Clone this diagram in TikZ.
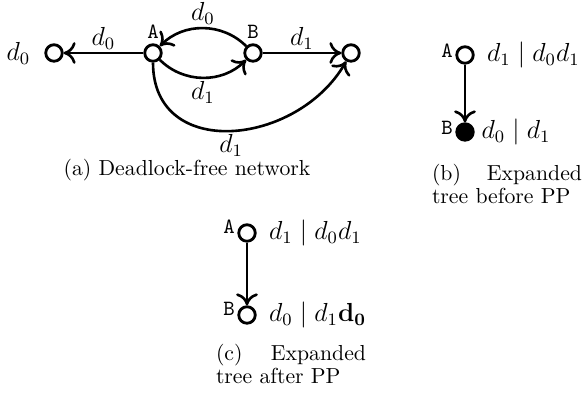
\documentclass[tikz,border=0pt]{standalone}
\usepackage{amsmath,amssymb}
\usepackage{tikz}
\usetikzlibrary{arrows.meta, positioning}

\begin{document}
\begin{tikzpicture}[x=0.46pt, y=0.46pt,
  state/.style={circle, draw, line width=1.3pt, minimum size=7.6pt, inner sep=0pt},
  full/.style={state, fill=black},
  tag/.style={font=\ttfamily, inner sep=1pt},
  edgelbl/.style={font=\large, inner sep=1pt},
  seq/.style={font=\large, inner sep=2pt},
  caption/.style={text width=69pt, align=left, inner sep=0pt,
                  font=\fontsize{10}{10.6}\selectfont},
  arrow/.style={-{To[length=5.5pt, width=10pt]}, line width=1.2pt}
]
\useasboundingbox (0,0) rectangle (584,395);

% (a) deadlock-free network
\node[state] (L) at (54,342) {};
\node[state, label={[tag, label distance=1pt]above:A}] (A) at (153,342) {};
\node[state, label={[tag, label distance=1pt]above:B}] (B) at (253,342) {};
\node[state] (R) at (351,342) {};
\node[font=\large, left=3pt of L] (Lout) {$d_0$};

\draw[arrow] (A) -- node[above, edgelbl] {$d_0$} (L);
\draw[arrow] (B) to[bend right=45] node[above, edgelbl] {$d_0$} (A);
\draw[arrow] (A) to[bend right=45] node[below, edgelbl] {$d_1$} (B);
\draw[arrow] (B) -- node[above, edgelbl] {$d_1$} (R);
\draw[arrow] (A) to[out=-90, in=-120, looseness=1.3]
                 node[below, edgelbl] {$d_1$} (R);

\node[inner sep=0pt] (capa) at (187,225) {(a) Deadlock-free network};

% (b) expanded tree before PP
\node[state, label={[tag, yshift=2pt]left:A}] (bA) at (465,340) {};
\node[full, label={[tag, yshift=2pt]left:B}] (bB) at (465,263) {};
\node[seq, right=3.5pt of bA] (bAseq) {$d_1 \mid d_0d_1$};
\node[seq, right=1pt of bB] (bBseq) {$d_0 \mid d_1$};
\draw[arrow] (bA) -- (bB);

\node[caption] (capb) at (507,211) {(b)\hfill Expanded\\tree before PP};

% (c) expanded tree after PP
\node[state, label={[tag, yshift=3pt]left:A}] (cA) at (247,162) {};
\node[state, label={[tag, yshift=3pt]left:B}] (cB) at (247,80) {};
\node[seq, right=3.5pt of cA] (cAseq) {$d_1 \mid d_0d_1$};
\node[seq, right=3.5pt of cB] (cBseq) {$d_0 \mid d_1\mathbf{d_0}$};
\draw[arrow] (cA) -- (cB);

\node[caption] (capc) at (291,31) {(c)\hfill Expanded\\tree after PP};
\end{tikzpicture}
\end{document}
